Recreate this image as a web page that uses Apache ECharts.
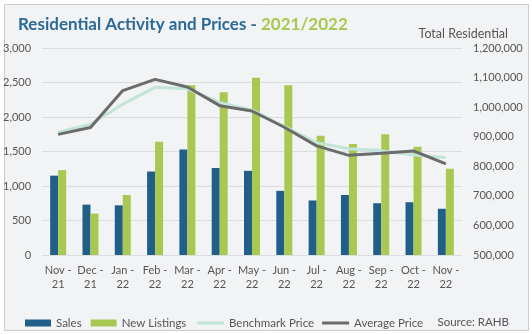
<!DOCTYPE html>
<html>
<head>
<meta charset="utf-8">
<script src="https://cdn.jsdelivr.net/npm/echarts@6/dist/echarts.min.js"></script>
<style>
html,body{margin:0;padding:0;background:#ffffff;}
#c{width:532px;height:334px;}
</style>
</head>
<body>
<div id="c"></div>
<script>
var categories = ['Nov -\n21','Dec -\n21','Jan -\n22','Feb -\n22','Mar -\n22','Apr -\n22','May -\n22','Jun -\n22','Jul -\n22','Aug -\n22','Sep -\n22','Oct -\n22','Nov -\n22'];
var sales = [1150, 730, 720, 1210, 1530, 1260, 1220, 930, 790, 870, 750, 765, 670];
var newListings = [1230, 600, 870, 1640, 2460, 2360, 2570, 2460, 1730, 1610, 1750, 1570, 1250];
var benchmarkPrice = [915000, 942000, 1010000, 1067000, 1062000, 1016000, 990000, 934000, 880000, 859000, 853000, 838000, 830000];
var averagePrice = [908000, 931000, 1056000, 1094000, 1068000, 1005000, 987000, 932000, 869000, 837000, 844000, 852000, 808000];

var font = 'Lato, "Noto Sans", sans-serif';
var chart = echarts.init(document.getElementById('c'), null, {renderer:'canvas'});
chart.setOption({
  animation: false,
  backgroundColor: '#ffffff',
  graphic: [
    {type:'rect', left:4, top:4, shape:{width:524, height:326}, style:{fill:'#f2f3f5', stroke:'#c9cbcd', lineWidth:1}, z:-10}
  ],
  title: [
    {
      text: '{a|Residential Activity and Prices - }{b|2021/2022}',
      left: 13, top: 11,
      textStyle: {
        rich: {
          a: {fontSize:17, fontWeight:'bold', color:'#2b6a98', fontFamily:font},
          b: {fontSize:17, fontWeight:'bold', color:'#a8c84e', fontFamily:font}
        }
      }
    },
    {
      text: 'Total Residential', right: 19, top: 22,
      textStyle: {fontSize:12.5, fontWeight:'normal', color:'#555', fontFamily:font}
    },
    {
      text: 'Source: RAHB', right: 18, top: 311,
      textStyle: {fontSize:11.5, fontWeight:'normal', color:'#555', fontFamily:font}
    }
  ],
  legend: [
    {
      left: 20, top: 312,
      itemGap: 9,
      itemWidth: 26, itemHeight: 7,
      textStyle: {fontSize:11.5, color:'#555', fontFamily:font},
      data: [{name:'Sales', icon:'rect'}, {name:'New Listings', icon:'rect'}]
    },
    {
      left: 192, top: 312,
      itemGap: 8,
      itemWidth: 27, itemHeight: 3,
      textStyle: {fontSize:11.5, color:'#555', fontFamily:font},
      data: [{name:'Benchmark Price', icon:'rect'}, {name:'Average Price', icon:'rect'}]
    }
  ],
  grid: {left:42, right:70, top:48, bottom:79},
  xAxis: {
    type: 'category',
    data: categories,
    axisLine: {show:false},
    axisTick: {show:false},
    axisLabel: {interval:0, fontSize:11, color:'#555', fontFamily:font, lineHeight:14, margin:8}
  },
  yAxis: [
    {
      type:'value', min:0, max:3000, interval:500,
      axisLine:{show:false}, axisTick:{show:false},
      splitLine:{lineStyle:{color:'#dcdddf', width:1}},
      axisLabel:{fontSize:11, color:'#555', fontFamily:font, margin:11,
        formatter:function(v){return v.toLocaleString('en-US');}}
    },
    {
      type:'value', min:500000, max:1200000, interval:100000,
      axisLine:{show:false}, axisTick:{show:false},
      splitLine:{show:false},
      axisLabel:{fontSize:11, color:'#555', fontFamily:font, margin:11,
        formatter:function(v){return v.toLocaleString('en-US');}}
    }
  ],
  series: [
    {name:'Sales', type:'bar', data:sales, barWidth:8, barGap:'0%', itemStyle:{color:'#215e88'}},
    {name:'New Listings', type:'bar', data:newListings, barWidth:8, barGap:'0%', itemStyle:{color:'#a9c852'}},
    {name:'Benchmark Price', type:'line', yAxisIndex:1, data:benchmarkPrice, symbol:'none',
      lineStyle:{color:'#c2e4d9', width:3}, itemStyle:{color:'#c2e4d9'}},
    {name:'Average Price', type:'line', yAxisIndex:1, data:averagePrice, symbol:'none',
      lineStyle:{color:'#6b6b6b', width:3}, itemStyle:{color:'#6b6b6b'}}
  ]
});
</script>
</body>
</html>
